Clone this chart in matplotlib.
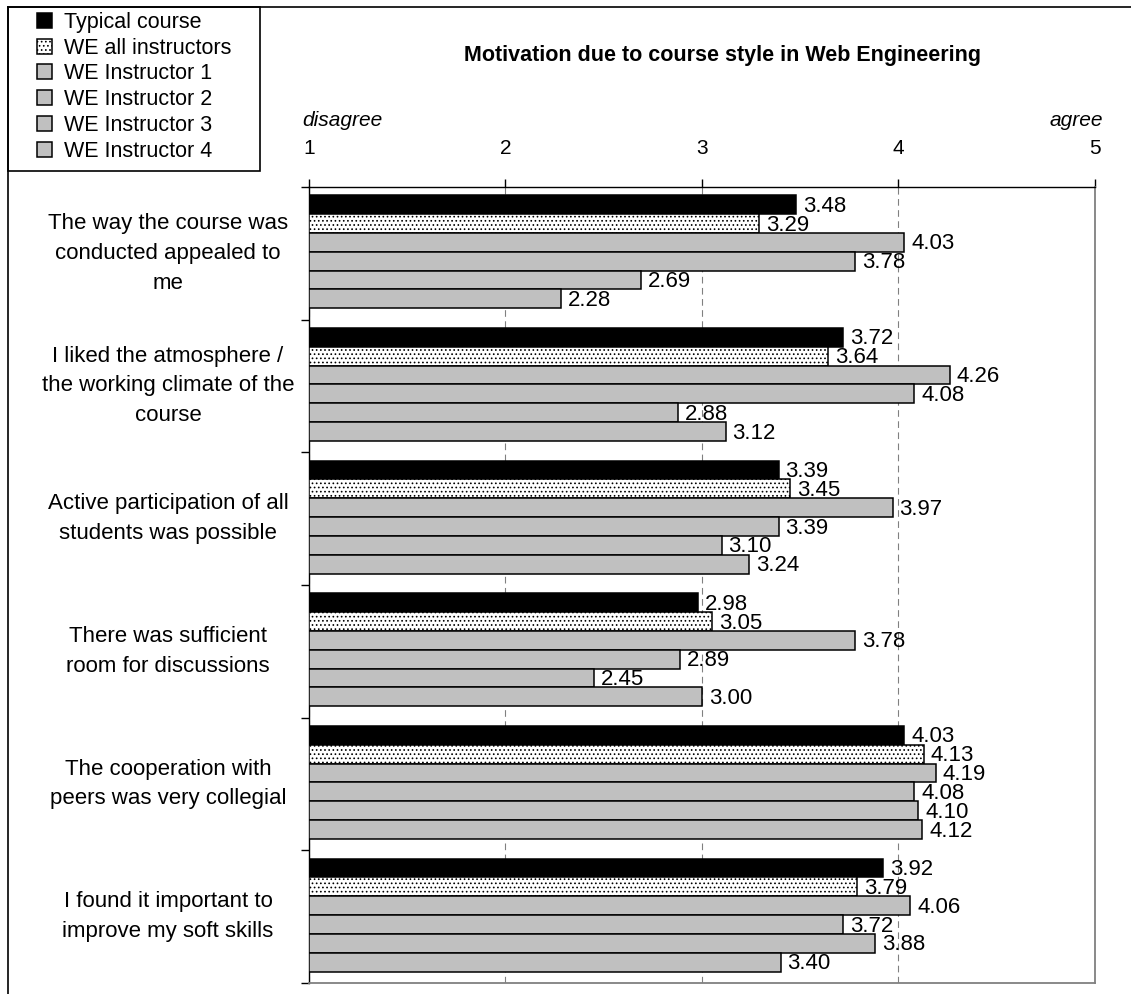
import matplotlib.pyplot as plt
import matplotlib.transforms as mtransforms
import numpy as np
from matplotlib.lines import Line2D
from matplotlib.patches import Rectangle

plt.rcParams['font.family'] = ['Liberation Sans', 'DejaVu Sans']
plt.rcParams['hatch.linewidth'] = 0.7

# survey statements (top to bottom)
statements = [
    'The way the course was\nconducted appealed to\nme',
    'I liked the atmosphere /\nthe working climate of the\ncourse',
    'Active participation of all\nstudents was possible',
    'There was sufficient\nroom for discussions',
    'The cooperation with\npeers was very collegial',
    'I found it important to\nimprove my soft skills',
]

series_names = ['Typical course', 'WE all instructors', 'WE Instructor 1',
                'WE Instructor 2', 'WE Instructor 3', 'WE Instructor 4']

typical_course = [3.48, 3.72, 3.39, 2.98, 4.03, 3.92]
we_all = [3.29, 3.64, 3.45, 3.05, 4.13, 3.79]
we_instr1 = [4.03, 4.26, 3.97, 3.78, 4.19, 4.06]
we_instr2 = [3.78, 4.08, 3.39, 2.89, 4.08, 3.72]
we_instr3 = [2.69, 2.88, 3.10, 2.45, 4.10, 3.88]
we_instr4 = [2.28, 3.12, 3.24, 3.00, 4.12, 3.40]

scale_ticks = [1, 2, 3, 4, 5]

W, H = 1131, 994


def fx(px):
    return px / W


def fy(py):
    return 1 - py / H


fig = plt.figure(figsize=(W / 100, H / 100), dpi=100)
ax = fig.add_axes([fx(309), fy(983), fx(1095) - fx(309), (983 - 187) / H])

all_series = [typical_course, we_all, we_instr1, we_instr2, we_instr3, we_instr4]
styles = [
    dict(color='black', edgecolor='black'),
    dict(color='white', edgecolor='black', hatch='....'),
    dict(color='#c0c0c0', edgecolor='black'),
    dict(color='#c0c0c0', edgecolor='black'),
    dict(color='#c0c0c0', edgecolor='black'),
    dict(color='#c0c0c0', edgecolor='black'),
]

bar_h = 0.142
start = 0.062
cats = np.arange(len(statements))
handles = []
for j, (vals, st) in enumerate(zip(all_series, styles)):
    vals = np.array(vals)
    ys = cats + start + (j + 0.5) * bar_h
    bars = ax.barh(ys, vals - 1, left=1, height=bar_h, linewidth=1.1, zorder=3, **st)
    handles.append(bars)
    # value labels sit under the bars, so a longer neighbour can clip them
    for v, y in zip(vals, ys):
        ax.annotate(f'{v:.2f}', (v, y), xytext=(5, -1.2), textcoords='offset points',
                    va='center', ha='left', fontsize=16, zorder=2)

ax.set_xlim(1, 5)
ax.set_ylim(len(statements), 0)

ax.xaxis.tick_top()
ax.set_xticks(scale_ticks)
ax.set_xticklabels([str(t) for t in scale_ticks])
ax.tick_params(axis='x', direction='out', length=6, width=1, pad=15, labelsize=15)
ax.set_yticks(np.arange(len(statements) + 1))
ax.set_yticklabels([])
ax.tick_params(axis='y', direction='out', length=6, width=1)

ax.grid(axis='x', color='#808080', linestyle=(0, (6, 4)), linewidth=0.8)
ax.set_axisbelow(True)

for side in ['top', 'left']:
    ax.spines[side].set_color('black')
    ax.spines[side].set_linewidth(1)
for side in ['right', 'bottom']:
    ax.spines[side].set_color('#808080')
    ax.spines[side].set_linewidth(1.3)

# statement labels, centred in the left margin
trans = mtransforms.blended_transform_factory(fig.transFigure, ax.transData)
for i, s in enumerate(statements):
    ax.text(fx(168), i + 0.5, s, transform=trans, ha='center', va='center',
            multialignment='center', fontsize=16, linespacing=1.55)

fig.text(fx(302), fy(120), 'disagree', style='italic', fontsize=15, ha='left', va='center')
fig.text(fx(1103), fy(120), 'agree', style='italic', fontsize=15, ha='right', va='center')
fig.text(fx(722), fy(56), 'Motivation due to course style in Web Engineering',
         fontsize=15.5, fontweight='bold', ha='center', va='center')

# outer frame and legend box
fig.add_artist(Line2D([fx(8), 1], [fy(7), fy(7)], color='black', lw=1.2))
fig.add_artist(Line2D([fx(8), fx(8)], [fy(7), 0], color='black', lw=1.2))
fig.add_artist(Rectangle((fx(8), fy(171)), fx(260) - fx(8), (171 - 7) / H,
                         transform=fig.transFigure, fill=False, edgecolor='black', lw=1.2))

fig.legend(handles=handles, labels=series_names, loc='upper left',
           bbox_to_anchor=(fx(37), fy(12)), frameon=False, borderpad=0,
           borderaxespad=0, handlelength=0.7, handleheight=0.7,
           handletextpad=0.55, labelspacing=0.22, fontsize=15.5)

fig.savefig('out.png', dpi=100)
